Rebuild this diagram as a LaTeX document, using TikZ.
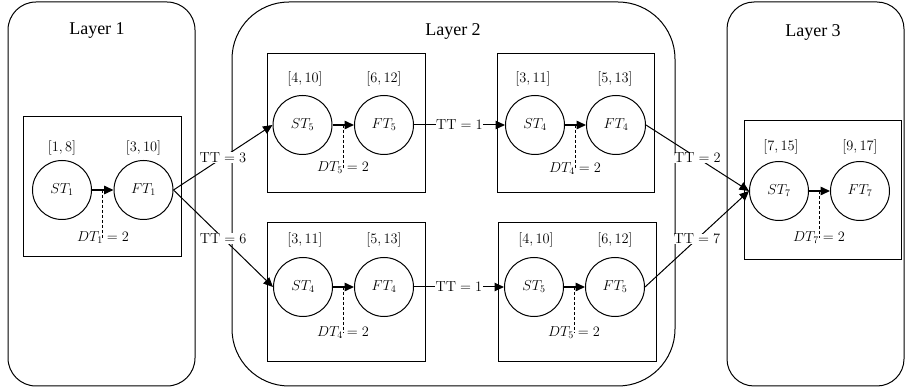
\documentclass[tikz,border=0pt]{standalone}
\usepackage{fontspec}
\newfontfamily\layerfont{Liberation Serif}
\usetikzlibrary{arrows.meta,calc}

\tikzset{
  layerbox/.style={draw, line width=1pt, minimum height=384pt},
  taskbox/.style={draw, line width=1pt, minimum width=158pt, minimum height=139pt},
  task/.style={draw, circle, line width=1pt, minimum size=59pt, inner sep=0pt,
               font=\fontsize{14.5}{17}\selectfont},
  lbl/.style={font=\fontsize{14.5}{17}\selectfont, inner sep=1pt},
  layertitle/.style={font=\layerfont\fontsize{18}{21}\selectfont},
  seq/.style={line width=1.5pt, -{Triangle[length=9.5pt,width=8.5pt]}},
  link/.style={line width=1pt, -{Triangle[length=9.5pt,width=8.5pt]}},
  tt/.style={fill=white, inner sep=0.5pt, font=\fontsize{14.5}{17}\selectfont},
  dt/.style={line width=0.8pt, dash pattern=on 3pt off 2pt}
}

\begin{document}
\begin{tikzpicture}[x=1pt, y=-1pt]
  \useasboundingbox (0,0) rectangle (906,390);

  % layers
  \node[layerbox, minimum width=187pt, rounded corners=28pt] (L1) at (101.5,194) {};
  \node[layerbox, minimum width=443pt, rounded corners=57pt] (L2) at (453.5,194) {};
  \node[layerbox, minimum width=177pt, rounded corners=27pt] (L3) at (815.5,194) {};
  \node[layertitle] (t1) at (97,31) {Layer 1};
  \node[layertitle] (t2) at (453,31) {Layer 2};
  \node[layertitle] (t3) at (813,32) {Layer 3};

  % task boxes
  \node[taskbox, minimum height=140pt] (B1) at (102,187) {};
  \node[taskbox] (B2) at (346,123.5) {};
  \node[taskbox, minimum width=157pt] (B3) at (575.5,123.5) {};
  \node[taskbox] (B4) at (346,292.5) {};
  \node[taskbox] (B5) at (577,292.5) {};
  \node[taskbox, minimum width=157pt] (B6) at (822.5,190.5) {};

  % Layer 1: task 1
  \node[task] (ST1) at (62,190) {$ST_1$};
  \node[task] (FT1) at (143.5,190) {$FT_1$};
  \node[lbl] (w1s) at (62,148) {$[1,8]$};
  \node[lbl] (w1f) at (143.5,148) {$[3,10]$};
  \node[lbl] (d1) at (103,238) {$DT_1=2$};

  % Layer 2, upper row: task 5 then task 4
  \node[task] (ST5a) at (302.5,125) {$ST_5$};
  \node[task] (FT5a) at (384,125) {$FT_5$};
  \node[lbl] (w5as) at (305,79) {$[4,10]$};
  \node[lbl] (w5af) at (384,79) {$[6,12]$};
  \node[lbl] (d5a) at (343,168) {$DT_5=2$};

  \node[task] (ST4a) at (535,125) {$ST_4$};
  \node[task] (FT4a) at (616,125) {$FT_4$};
  \node[lbl] (w4as) at (533,79) {$[3,11]$};
  \node[lbl] (w4af) at (615,79) {$[5,13]$};
  \node[lbl] (d4a) at (575,169) {$DT_4=2$};

  % Layer 2, lower row: task 4 then task 5
  \node[task] (ST4b) at (303,287) {$ST_4$};
  \node[task] (FT4b) at (384,287) {$FT_4$};
  \node[lbl] (w4bs) at (305,240) {$[3,11]$};
  \node[lbl] (w4bf) at (384,240) {$[5,13]$};
  \node[lbl] (d4b) at (343,333) {$DT_4=2$};

  \node[task] (ST5b) at (534,287) {$ST_5$};
  \node[task] (FT5b) at (615,287) {$FT_5$};
  \node[lbl] (w5bs) at (536,240) {$[4,10]$};
  \node[lbl] (w5bf) at (615,240) {$[6,12]$};
  \node[lbl] (d5b) at (574,333) {$DT_5=2$};

  % Layer 3: task 7
  \node[task] (ST7) at (779,191) {$ST_7$};
  \node[task] (FT7) at (860,191) {$FT_7$};
  \node[lbl] (w7s) at (781,147) {$[7,15]$};
  \node[lbl] (w7f) at (860,147) {$[9,17]$};
  \node[lbl] (d7) at (819,238) {$DT_7=2$};

  % start -> finish inside each task
  \foreach \s/\f/\d in {ST1/FT1/d1, ST5a/FT5a/d5a, ST4a/FT4a/d4a,
                        ST4b/FT4b/d4b, ST5b/FT5b/d5b, ST7/FT7/d7} {
    \draw[seq] (\s) -- (\f);
    \coordinate (m-\s) at ($(\s.east)!0.5!(\f.west)$);
    \draw[dt] (m-\s) -- (m-\s |- \d.center);
  }

  % transfers between tasks
  \draw[link] (FT1.east) -- node[tt] (tt3) {$\mathrm{TT}=3$} (ST5a.west);
  \draw[link] (FT1.east) -- node[tt] (tt6) {$\mathrm{TT}=6$} (ST4b.west);
  \draw[link] (FT5a.east) -- node[tt] (tt1a) {$\mathrm{TT}=1$} (ST4a.west);
  \draw[link] (FT4b.east) -- node[tt] (tt1b) {$\mathrm{TT}=1$} (ST5b.west);
  \draw[link] (FT4a.east) -- node[tt] (tt2) {$\mathrm{TT}=2$} (ST7.west);
  \draw[link] (FT5b.east) -- node[tt] (tt7) {$\mathrm{TT}=7$} (ST7.west);
\end{tikzpicture}
\end{document}
